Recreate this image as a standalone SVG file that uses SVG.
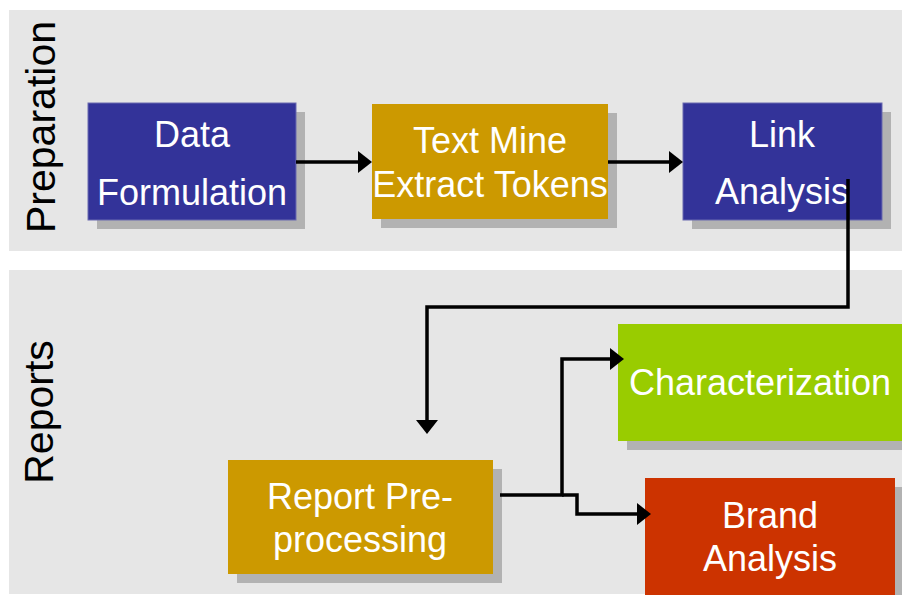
<svg xmlns="http://www.w3.org/2000/svg" width="902" height="595" viewBox="0 0 902 595">
<defs>
<style>
.band{fill:#e6e6e6}
.shadow{fill:#b2b2b2}
.lbl{font-family:"Liberation Sans",Arial,sans-serif;font-size:36px;fill:#ffffff;text-anchor:middle}
.lane{font-family:"Liberation Sans",Arial,sans-serif;font-size:41px;fill:#000000;text-anchor:middle}
.conn{fill:none;stroke:#000000;stroke-width:3.5;stroke-linejoin:miter}
</style>
<marker id="arr" markerUnits="userSpaceOnUse" markerWidth="14" markerHeight="22" viewBox="0 0 14 22" refX="2" refY="11" orient="auto">
<path d="M0,0 L14,11 L0,22 z" fill="#000000"/>
</marker>
</defs>
<rect width="902" height="595" fill="#ffffff"/>
<g id="lanes">
<rect class="band" x="9" y="10" width="893" height="241"/>
<rect class="band" x="9" y="270" width="893" height="324"/>
<text class="lane" transform="translate(55,127) rotate(-90)">Preparation</text>
<text class="lane" transform="translate(53,412) rotate(-90)">Reports</text>
</g>
<g id="data-formulation">
<rect class="shadow" x="97" y="112" width="208" height="117"/>
<rect x="88" y="103" width="208" height="117" fill="#333399" stroke="#6b6bb0" stroke-width="1"/>
<text class="lbl" x="192" y="147">Data</text>
<text class="lbl" x="192" y="205">Formulation</text>
</g>
<g id="text-mine">
<rect class="shadow" x="381" y="113" width="236" height="115"/>
<rect x="372" y="104" width="236" height="115" fill="#cc9900"/>
<text class="lbl" x="490" y="153">Text Mine</text>
<text class="lbl" x="490" y="197">Extract Tokens</text>
</g>
<g id="link-analysis">
<rect class="shadow" x="692" y="112" width="199" height="117"/>
<rect x="683" y="103" width="199" height="117" fill="#333399" stroke="#6b6bb0" stroke-width="1"/>
<text class="lbl" x="782" y="147">Link</text>
<text class="lbl" x="782" y="204">Analysis</text>
</g>
<g id="report-preprocessing">
<rect class="shadow" x="237" y="469" width="265" height="114"/>
<rect x="228" y="460" width="265" height="114" fill="#cc9900"/>
<text class="lbl" x="360" y="509">Report Pre-</text>
<text class="lbl" x="360" y="552">processing</text>
</g>
<g id="characterization">
<rect class="shadow" x="627" y="333" width="285" height="117"/>
<rect x="618" y="324" width="285" height="117" fill="#99cc00"/>
<text class="lbl" x="760" y="395">Characterization</text>
</g>
<g id="brand-analysis">
<rect class="shadow" x="654" y="487" width="250" height="120"/>
<rect x="645" y="478" width="250" height="120" fill="#cc3300"/>
<text class="lbl" x="770" y="528">Brand</text>
<text class="lbl" x="770" y="571">Analysis</text>
</g>
<g id="connectors">
<path class="conn" d="M296,162 H360" marker-end="url(#arr)"/>
<path class="conn" d="M608,162 H671" marker-end="url(#arr)"/>
<path class="conn" d="M848,179 V307 H427 V422" marker-end="url(#arr)"/>
<path class="conn" d="M500,495 H562 V359 H612" marker-end="url(#arr)"/>
<path class="conn" d="M562,495 H577 V514 H639" marker-end="url(#arr)"/>
</g>
</svg>
